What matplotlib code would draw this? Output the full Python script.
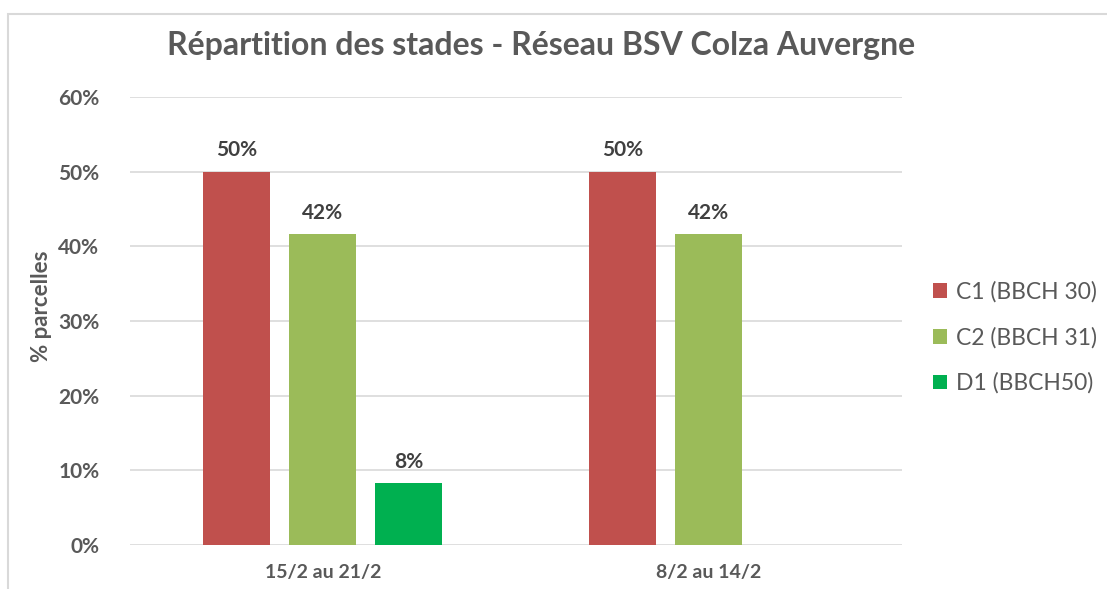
import numpy as np
import matplotlib.pyplot as plt
from matplotlib.patches import Rectangle
from matplotlib.ticker import PercentFormatter

plt.rcParams['font.family'] = ['Lato', 'DejaVu Sans']

# data
periods = ['15/2 au 21/2', '8/2 au 14/2']
stages = ['C1 (BBCH 30)', 'C2 (BBCH 31)', 'D1 (BBCH50)']
c1 = [50.0, 50.0]
c2 = [41.67, 41.67]
d1 = [8.33, 0.0]
colors = ['#C0504D', '#9BBB59', '#00B050']

fig = plt.figure(figsize=(11.07, 5.89), dpi=100)
ax = fig.add_axes([0.1174, 0.0747, 0.6974, 0.7606])

# chart frame (the picture is cropped on the right and bottom)
fig.patches.append(Rectangle((8 / 1107, -0.05), 1.2, 1 - 14 / 589 + 0.05,
                             transform=fig.transFigure, fill=False,
                             edgecolor='#D9D9D9', linewidth=1.5))

x = np.arange(len(periods))
width = 0.1736
step = 0.2228
for i, (vals, name) in enumerate(zip([c1, c2, d1], stages)):
    pos = x + (i - 1) * step
    ax.bar(pos, vals, width, color=colors[i], label=name, zorder=3)
    for px, v in zip(pos, vals):
        if v > 0:
            ax.text(px, v + 1.5, f'{v:.0f}%', ha='center', va='bottom',
                    fontsize=15, fontweight='bold', color='#404040')

ax.set_xlim(-0.5, 1.5)
ax.set_ylim(0, 60)
ax.set_yticks(np.arange(0, 61, 10))
ax.yaxis.set_major_formatter(PercentFormatter(decimals=0))
ax.grid(axis='y', color='#D9D9D9', linewidth=1.2, zorder=0)
for s in ax.spines.values():
    s.set_visible(False)
ax.tick_params(length=0)
ax.tick_params(axis='y', pad=22, labelsize=15, labelcolor='#595959')
ax.tick_params(axis='x', pad=14, labelsize=14, labelcolor='#595959')
for lbl in ax.get_yticklabels() + ax.get_xticklabels():
    lbl.set_fontweight('bold')
ax.set_xticks(x)
ax.set_xticklabels(periods)

fig.text(42 / 1107, 1 - 306 / 589, '% parcelles', rotation=90, ha='center',
         va='center', fontsize=16, fontweight='bold', color='#595959')

fig.text(0.489, 0.922, 'Répartition des stades - Réseau BSV Colza Auvergne',
         ha='center', va='center', fontsize=23, fontweight='bold', color='#595959')

leg = ax.legend(loc='center left', bbox_to_anchor=(1.040, 0.463), frameon=False,
                fontsize=16.5, handlelength=0.6, handleheight=0.6,
                labelspacing=1.05, handletextpad=0.4, borderpad=0,
                borderaxespad=0)
for t in leg.get_texts():
    t.set_color('#595959')

fig.savefig('out.png', dpi=100)
